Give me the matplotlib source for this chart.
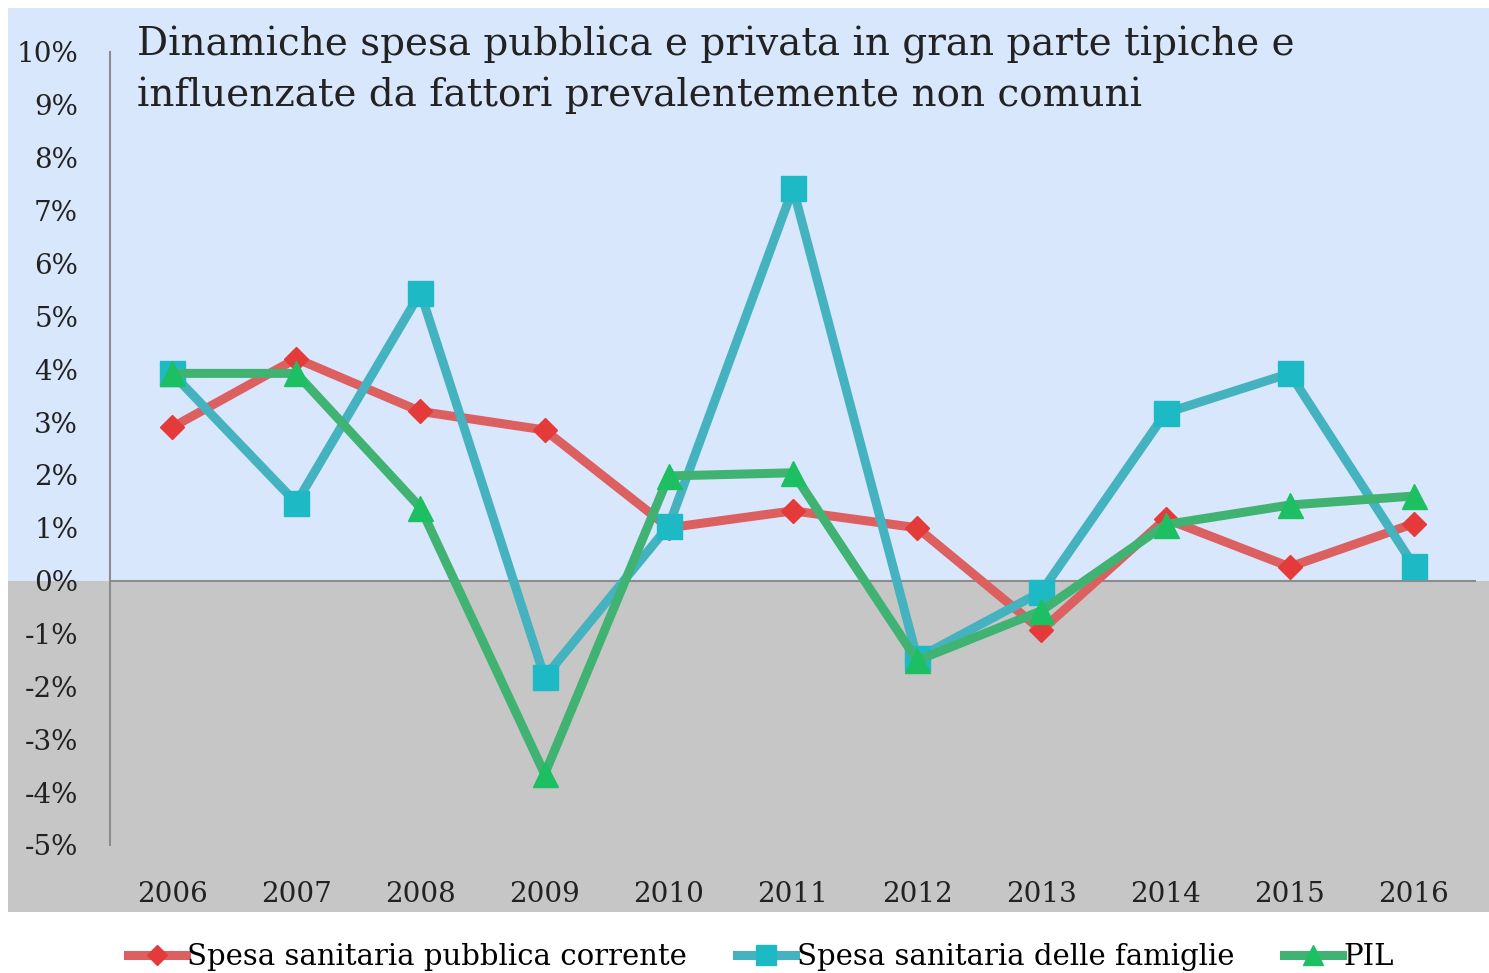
import numpy as np
import matplotlib
matplotlib.use("Agg")
from matplotlib import pyplot as plt
from matplotlib import transforms
from matplotlib.patches import Rectangle

plt.rcParams['font.family'] = ['DejaVu Serif']

# data (% annual change)
years = [2006, 2007, 2008, 2009, 2010, 2011, 2012, 2013, 2014, 2015, 2016]
spesa_pubblica = [2.9, 4.2, 3.2, 2.85, 1.0, 1.32, 1.0, -0.94, 1.17, 0.26, 1.08]
spesa_famiglie = [3.92, 1.47, 5.45, -1.83, 1.04, 7.42, -1.47, -0.21, 3.17, 3.92, 0.28]
pil = [3.92, 3.92, 1.38, -3.66, 1.98, 2.04, -1.51, -0.57, 1.06, 1.43, 1.6]

labels = ['Spesa sanitaria pubblica corrente', 'Spesa sanitaria delle famiglie', 'PIL']
title = ('Dinamiche spesa pubblica e privata in gran parte tipiche e\n'
         'influenzate da fattori prevalentemente non comuni')
y_ticks = list(range(-5, 11))

fig = plt.figure(figsize=(14.89, 9.73), dpi=100)
ax = fig.add_axes([0.0739, 0.1316, 0.9174, 0.815])
ax.set_facecolor('none')

# background panels: blue above zero, grey below
bt = transforms.blended_transform_factory(fig.transFigure, ax.transData)
fig.patches.append(Rectangle((0.0054, 0), 0.9946, 10.83, transform=bt,
                             facecolor='#d9e7fd', edgecolor='none', zorder=-10))
fig.patches.append(Rectangle((0.0054, -6.26), 0.9946, 6.26, transform=bt,
                             facecolor='#c6c6c6', edgecolor='none', zorder=-10))

ax.plot(years, spesa_pubblica, color='#dd6060', lw=6.5, marker='D', ms=12.5,
        mfc='#e53a3a', mec='#e53a3a', label=labels[0], zorder=3)
ax.plot(years, spesa_famiglie, color='#45b3bf', lw=6.5, marker='s', ms=18,
        mfc='#1dbac5', mec='#1dbac5', label=labels[1], zorder=4)
ax.plot(years, pil, color='#40b373', lw=6.5, marker='^', ms=18,
        mfc='#1dbf63', mec='#1dbf63', label=labels[2], zorder=5)

ax.axhline(0, color='#8c8c8c', lw=1.5, zorder=2)
ax.set_xlim(2005.5, 2016.5)
ax.set_ylim(-5, 10)
ax.set_xticks(years)
ax.set_yticks(y_ticks)
ax.set_yticklabels([f'{v}%' for v in y_ticks])
ax.tick_params(axis='both', length=0, labelsize=20, colors='#222222')
ax.tick_params(axis='y', pad=23)
ax.tick_params(axis='x', pad=26)
for s in ['top', 'right', 'bottom']:
    ax.spines[s].set_visible(False)
ax.spines['left'].set_color('#8c8c8c')
ax.spines['left'].set_linewidth(1.5)

fig.text(0.092, 0.973, title, fontsize=28, va='top', ha='left',
         color='#222222', linespacing=1.42)

fig.legend(loc='center', bbox_to_anchor=(0.511, 0.0164), ncol=3, frameon=False,
           fontsize=21, handlelength=2.0, handletextpad=0.05, columnspacing=1.7,
           markerscale=0.8)

fig.savefig('out.png', dpi=100)
